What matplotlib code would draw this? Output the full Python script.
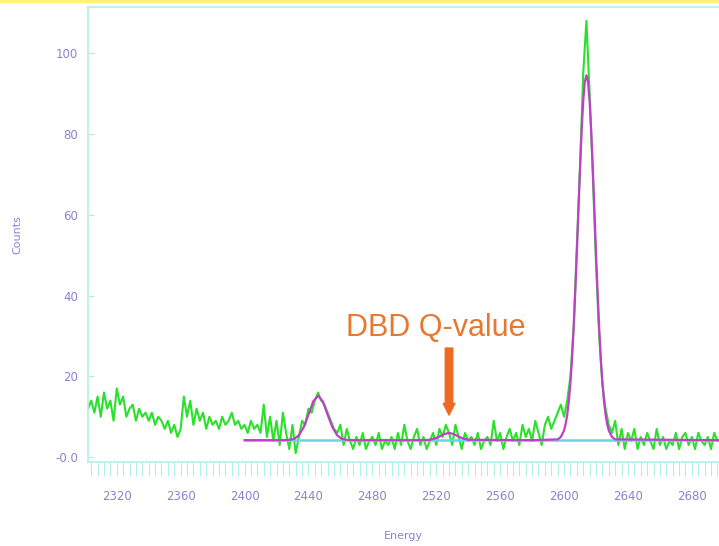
import numpy as np
import matplotlib
matplotlib.use("Agg")
import matplotlib.pyplot as plt
from matplotlib.ticker import MultipleLocator, FixedLocator

# measured spectrum, 2 keV bins starting at 2302 keV
energy = np.arange(2302, 2698, 2)
counts = [
    12, 14, 11, 15, 10, 16, 12, 14, 9, 17,
    13, 15, 10, 12, 13, 9, 12, 10, 11, 9,
    11, 8, 10, 9, 7, 9, 6, 8, 5, 7,
    15, 10, 14, 8, 12, 9, 11, 7, 10, 8,
    9, 7, 10, 8, 9, 11, 8, 9, 7, 8,
    6, 9, 7, 8, 6, 13, 5, 10, 4, 9,
    3, 11, 6, 2, 8, 1, 5, 9, 8, 12,
    11, 14, 16, 14, 13, 11, 9, 7, 6, 8,
    3, 7, 4, 2, 5, 3, 6, 2, 4, 5,
    3, 6, 2, 4, 3, 5, 2, 6, 3, 8,
    4, 2, 5, 7, 3, 5, 2, 4, 6, 3,
    7, 5, 8, 6, 3, 8, 5, 2, 6, 4,
    5, 3, 6, 2, 4, 5, 3, 9, 4, 6,
    2, 5, 7, 4, 6, 3, 8, 5, 7, 4,
    9, 6, 3, 8, 10, 7, 9, 11, 13, 10,
    14, 20, 32, 52, 72, 95, 108, 90, 70, 48,
    30, 18, 12, 8, 6, 9, 3, 7, 2, 6,
    4, 7, 2, 5, 3, 6, 4, 2, 7, 3,
    5, 2, 4, 3, 6, 2, 5, 6, 3, 5,
    2, 6, 4, 3, 5, 2, 6, 4,
]

# fitted curve
fit_energy = [2400, 2425, 2428, 2431, 2434, 2437, 2440, 2443, 2446, 2449,
              2452, 2455, 2458, 2461, 2464, 2467, 2510, 2516, 2519, 2522,
              2525, 2528, 2531, 2534, 2537, 2540, 2580, 2596, 2598, 2600,
              2601, 2602, 2603, 2604, 2605, 2606, 2607, 2608, 2609, 2610,
              2611, 2612, 2613, 2614, 2615, 2616, 2617, 2618, 2619, 2620,
              2621, 2622, 2623, 2624, 2625, 2626, 2627, 2628, 2630, 2632,
              2697]
fit_counts = [4.2, 4.2, 4.3, 4.5, 5.4, 7.4, 10.5, 13.8, 15.2, 13.8,
              10.5, 7.4, 5.4, 4.5, 4.3, 4.2, 4.2, 4.3, 4.6, 5.1,
              5.7, 6.0, 5.7, 5.1, 4.6, 4.3, 4.2, 4.4, 5.0, 6.6,
              8.2, 10.5, 13.9, 18.5, 24.4, 31.9, 40.7, 50.6, 61.1, 71.4,
              80.7, 88.1, 92.9, 94.5, 92.9, 88.1, 80.7, 71.4, 61.1, 50.6,
              40.7, 31.9, 24.4, 18.5, 13.9, 10.5, 8.2, 6.6, 5.0, 4.4,
              4.2]
baseline_energy = [2400, 2697]
baseline_counts = [4.2, 4.2]

ytick_values = [0, 20, 40, 60, 80, 100]
ytick_labels = ["-0.0", "20", "40", "60", "80", "100"]
xtick_values = [2320, 2360, 2400, 2440, 2480, 2520, 2560, 2600, 2640, 2680]

qvalue = 2528
label_color = "#8a84d2"
frame_color = "#b4efe6"

fig = plt.figure(figsize=(7.19, 5.46), dpi=100)
fig.add_artist(plt.Line2D([0, 1], [0.998, 0.998], color="#fff27a", lw=2.5))
ax = fig.add_axes([88 / 719, 84 / 546, 631 / 719, 455 / 546])

ax.plot(energy, counts, color="#2be02b", lw=1.5)
ax.plot(baseline_energy, baseline_counts, color="#5fd9e6", lw=1.8)
ax.plot(fit_energy, fit_counts, color="#c03fc8", lw=1.6)

ax.set_xlim(2302, 2697)
ax.set_ylim(-1.2, 111.4)

ax.xaxis.set_major_locator(FixedLocator(xtick_values))
ax.xaxis.set_minor_locator(MultipleLocator(4))
ax.yaxis.set_major_locator(FixedLocator(ytick_values))
ax.set_yticklabels(ytick_labels)
ax.tick_params(axis="x", which="both", direction="out", length=10, width=0.8,
               color=frame_color, labelsize=8.5, labelcolor=label_color, pad=10)
ax.tick_params(axis="y", which="major", direction="in", length=4, width=0.8,
               color=frame_color, labelsize=8.5, labelcolor=label_color, pad=7)
for s in ax.spines.values():
    s.set_color(frame_color)
    s.set_linewidth(1.2)
ax.spines["right"].set_visible(False)

ax.set_xlabel("Energy", color=label_color, fontsize=8, labelpad=20)
ax.set_ylabel("Counts", color=label_color, fontsize=8, labelpad=24)

ax.text(2519.5, 32, "DBD Q-value", color="#e7782f", fontsize=22,
        family="Liberation Sans", ha="center", va="center")
ax.annotate("", xy=(qvalue, 10.4), xytext=(qvalue, 27),
            arrowprops=dict(arrowstyle="simple,head_length=0.7,head_width=0.7,tail_width=0.45",
                            color="#ee6a22", mutation_scale=12, shrinkA=0, shrinkB=0))

fig.savefig("out.png", dpi=100)
